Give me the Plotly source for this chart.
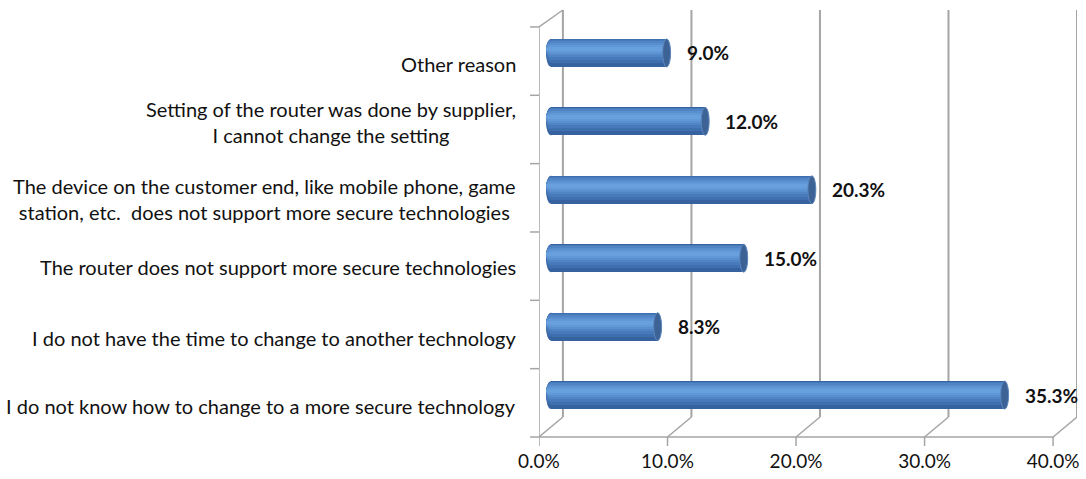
import plotly.graph_objects as go

# Survey answers, listed top to bottom as shown
reasons = [
    "Other reason",
    "Setting of the router was done by supplier,<br>I cannot change the setting",
    "The device on the customer end, like mobile phone, game<br>station, etc.  does not support more secure technologies",
    "The router does not support more secure technologies",
    "I do not have the time to change to another technology",
    "I do not know how to change to a more secure technology",
]
shares = [9.0, 12.0, 20.3, 15.0, 8.3, 35.3]
value_text = [f"{v:.1f}%" for v in shares]

tick_vals = [0, 10, 20, 30, 40]
tick_text = ["0.0%", "10.0%", "20.0%", "30.0%", "40.0%"]

W, H = 1086, 479
ML, MR, MT, MB = 539, 7, 10, 41
plot_w = W - ML - MR
plot_h = H - MT - MB

# horizontal depth shift (value units) between the bar plane and the front/back walls
px_per_unit = 12.9
depth = 12 / px_per_unit
x_lo, x_hi = -depth, -depth + plot_w / px_per_unit

# category spacing in pixels; first category centred 43 px below the top
cat_px = 68.6
y_top = -43 / cat_px
y_bottom = y_top + plot_h / cat_px

back_floor = 20 / plot_h          # paper y of the back floor edge
front_top = (438 - 27) / plot_h   # paper y of the front top of the side wall

grid_col = "#a5a5a5"
font_fam = "Lato, 'Open Sans', Arial, sans-serif"

n = len(reasons)
idx = list(range(n))

fig = go.Figure()

# cylinder shading: stacked bands (colour, top px, bottom px relative to bar centre)
band_px = [
    ("#3762a0", -14, 14),
    ("#3f6fae", -13.5, 10),
    ("#477aba", -13, 7),
    ("#5084c5", -12, 4),
    ("#598fcf", -10, 2),
    ("#6198d7", -8, 0),
    ("#67a0dd", -6, -2),
]
bands = [(c, a / cat_px, (b - a) / cat_px) for c, a, b in band_px]
for col, off, wid in bands:
    fig.add_trace(go.Bar(
        y=idx, x=shares, orientation="h",
        marker=dict(color=col, line=dict(width=0)),
        offset=off, width=wid, hoverinfo="skip", showlegend=False,
    ))

shapes = []
line_back = dict(color=grid_col, width=2)
line_frame = dict(color=grid_col, width=1.5)

# back wall gridlines and floor diagonals
for v in tick_vals:
    shapes.append(dict(type="line", xref="x", yref="paper", layer="below",
                       x0=v + depth, x1=v + depth, y0=back_floor, y1=1, line=line_back))
    shapes.append(dict(type="line", xref="x", yref="paper", layer="below",
                       x0=v - depth, x1=v + depth, y0=0, y1=back_floor, line=line_frame))
    shapes.append(dict(type="line", xref="x", yref="paper", layer="below",
                       x0=v - depth, x1=v - depth, y0=0, y1=-9 / plot_h, line=line_frame))

# front floor edge
shapes.append(dict(type="line", xref="x", yref="paper", layer="below",
                   x0=-depth, x1=tick_vals[-1] - depth, y0=0, y1=0, line=line_frame))
# side wall: front edge and top diagonal
shapes.append(dict(type="line", xref="x", yref="paper", layer="below",
                   x0=-depth, x1=-depth, y0=0, y1=front_top, line=line_frame))
shapes.append(dict(type="line", xref="x", yref="paper", layer="below",
                   x0=-depth, x1=depth, y0=front_top, y1=1, line=line_frame))
# side wall tick marks at category boundaries
for k in range(n + 1):
    yy = front_top * k / n
    shapes.append(dict(type="line", xref="paper", yref="paper", layer="below",
                       x0=-9 / plot_w, x1=0, y0=yy, y1=yy, line=line_frame))

# rounded left ends and dark right caps of the cylinders
rx_left = 5 / px_per_unit
rx_right = 4 / px_per_unit
half = 14 / cat_px
for i, v in zip(idx, shares):
    for col, off, wid in bands:
        shapes.append(dict(type="circle", xref="x", yref="y", layer="below",
                           x0=-rx_left, x1=rx_left, y0=i + off, y1=i + off + wid,
                           fillcolor=col, line=dict(width=0)))
    shapes.append(dict(type="circle", xref="x", yref="y", layer="above",
                       x0=v - rx_right, x1=v + rx_right, y0=i - half, y1=i + half,
                       fillcolor="#3d6396", line=dict(color="#5c86bd", width=1)))

# category labels sit on the front plane, a little below the bar centre;
# the wrapped supplier label sits higher than the others
label_drop = [-11, -1, -9, -9, -11, -11]
annotations = []
for i, r, dy in zip(idx, reasons, label_drop):
    annotations.append(dict(
        xref="paper", yref="y", x=0, y=i, xanchor="right", yanchor="middle",
        xshift=-21, yshift=dy, text=r, showarrow=False, align="center",
        font=dict(family=font_fam, size=20, color="#111111"),
    ))
for i, v, t in zip(idx, shares, value_text):
    annotations.append(dict(
        xref="x", yref="y", x=v, y=i, xanchor="left", yanchor="middle",
        xshift=18, text=f"<b>{t}</b>", showarrow=False,
        font=dict(family=font_fam, size=19, color="#111111"),
    ))

fig.update_layout(
    width=W, height=H,
    margin=dict(l=ML, r=MR, t=MT, b=MB),
    paper_bgcolor="white", plot_bgcolor="white",
    barmode="overlay", bargap=0,
    showlegend=False,
    shapes=shapes, annotations=annotations,
    xaxis=dict(range=[x_lo, x_hi], tickvals=tick_vals, ticktext=tick_text,
               showgrid=False, zeroline=False, showline=False, ticks="",
               ticklabelshift=-12, ticklabelstandoff=11,
               tickfont=dict(family=font_fam, size=19, color="#111111"),
               fixedrange=True),
    yaxis=dict(range=[y_bottom, y_top], showticklabels=False, showgrid=False,
               zeroline=False, showline=False, ticks="", fixedrange=True),
)

fig.write_html("out.html", config={"displayModeBar": False})
